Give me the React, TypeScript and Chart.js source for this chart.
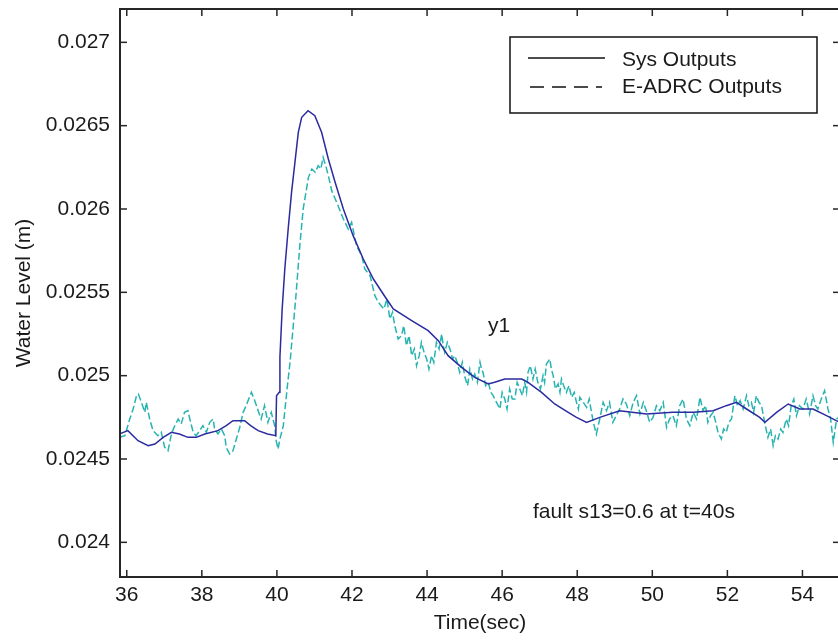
import React, { useEffect, useRef } from "react";
import { Chart, registerables } from "chart.js";

Chart.register(...registerables);

// ---- data ----
const sysTime = [
  35.8, 36.03, 36.3, 36.57, 36.75, 36.97, 37.19, 37.4, 37.63, 37.85, 38.08, 38.43, 38.65, 38.83,
  39.14, 39.3, 39.5, 39.75, 39.97, 39.99, 40.06, 40.08, 40.14, 40.21, 40.3, 40.39, 40.48, 40.57,
  40.66, 40.83, 41.01, 41.19, 41.37, 41.55, 41.77, 42.03, 42.3, 42.57, 42.92, 43.1, 43.59, 44.03,
  44.3, 44.56, 44.92, 45.27, 45.63, 45.8, 46.07, 46.52, 46.69, 47.05, 47.4, 47.76, 47.98, 48.25,
  48.6, 49.13, 49.84, 50.55, 51.09, 51.62, 51.97, 52.24, 52.51, 52.86, 53.0, 53.31, 53.62, 53.93,
  54.28, 54.64, 54.9, 55.0,
];
const sysLevel = [
  0.02465, 0.02467, 0.02461, 0.02458, 0.02459, 0.02463, 0.02466, 0.02465, 0.02463, 0.02463, 0.02465,
  0.02467, 0.0247, 0.02473, 0.02473, 0.0247, 0.02467, 0.02465, 0.02464, 0.02488, 0.0249, 0.02511,
  0.0254, 0.02564, 0.02588, 0.0261, 0.02628, 0.02646, 0.02655, 0.02659, 0.02656, 0.02646, 0.0263,
  0.02616, 0.026, 0.02584, 0.0257, 0.02558, 0.02546, 0.0254, 0.02533, 0.02527, 0.02521, 0.02512,
  0.02505, 0.02499, 0.02495, 0.02496, 0.02498, 0.02498, 0.02496, 0.0249, 0.02483, 0.02478, 0.02475,
  0.02472, 0.02475, 0.02479, 0.02477, 0.02478, 0.02478, 0.02479, 0.02482, 0.02484, 0.0248, 0.02475,
  0.02472, 0.02478, 0.02483, 0.0248, 0.0248, 0.02476, 0.02473, 0.02472,
];

const adrcTime = [
  35.8, 35.95, 36.08, 36.17, 36.26, 36.31, 36.39, 36.48, 36.52, 36.61,
  36.7, 36.83, 36.92, 37.01, 37.1, 37.19, 37.28, 37.37, 37.45, 37.54,
  37.63, 37.68, 37.77, 37.85, 37.94, 38.03, 38.12, 38.21, 38.3, 38.34,
  38.43, 38.52, 38.61, 38.65, 38.74, 38.83, 38.92, 39.01, 39.1, 39.18,
  39.32, 39.41, 39.5, 39.58, 39.67, 39.76, 39.85, 39.94, 39.98, 40.03,
  40.08, 40.17, 40.28, 40.35, 40.42, 40.5, 40.61, 40.7, 40.84, 40.93,
  41.02, 41.1, 41.17, 41.23, 41.3, 41.37, 41.46, 41.63, 41.77, 41.9,
  41.99, 42.12, 42.26, 42.34, 42.48, 42.61, 42.7, 42.85, 42.93, 43.01,
  43.08, 43.14, 43.23, 43.32, 43.38, 43.45, 43.52, 43.59, 43.66, 43.72,
  43.79, 43.85, 43.92, 43.99, 44.05, 44.12, 44.18, 44.25, 44.32, 44.39,
  44.43, 44.47, 44.54, 44.61, 44.68, 44.74, 44.8, 44.87, 44.94, 45.01,
  45.08, 45.14, 45.21, 45.27, 45.34, 45.41, 45.45, 45.49, 45.56, 45.63,
  45.7, 45.76, 45.85, 45.94, 46.0, 46.07, 46.13, 46.2, 46.27, 46.34,
  46.4, 46.47, 46.54, 46.6, 46.65, 46.69, 46.75, 46.82, 46.88, 46.95,
  47.02, 47.09, 47.13, 47.18, 47.27, 47.31, 47.36, 47.42, 47.49, 47.54,
  47.58, 47.64, 47.71, 47.78, 47.85, 47.92, 47.98, 48.03, 48.07, 48.16,
  48.25, 48.32, 48.38, 48.43, 48.51, 48.56, 48.6, 48.69, 48.78, 48.86,
  48.95, 49.04, 49.13, 49.22, 49.31, 49.4, 49.49, 49.58, 49.67, 49.76,
  49.84, 49.93, 50.02, 50.11, 50.2, 50.29, 50.38, 50.46, 50.55, 50.64,
  50.73, 50.82, 50.91, 51.0, 51.09, 51.18, 51.27, 51.35, 51.42, 51.48,
  51.55, 51.62, 51.69, 51.75, 51.84, 51.9, 51.97, 52.04, 52.11, 52.2,
  52.27, 52.34, 52.42, 52.51, 52.57, 52.64, 52.7, 52.77, 52.84, 52.91,
  53.0, 53.08, 53.15, 53.22, 53.28, 53.35, 53.42, 53.48, 53.57, 53.63,
  53.7, 53.77, 53.84, 53.92, 54.01, 54.1, 54.19, 54.28, 54.35, 54.41,
  54.5, 54.59, 54.68, 54.75, 54.82, 54.91, 55.0,
];
const adrcLevel = [
  0.02463, 0.02464, 0.02474, 0.0248, 0.02488, 0.02489, 0.02484, 0.02478, 0.02484, 0.02474,
  0.02467, 0.02464, 0.02466, 0.02457, 0.02455, 0.02465, 0.0247, 0.02474, 0.02471, 0.02478,
  0.02479, 0.02474, 0.02466, 0.02464, 0.02467, 0.0247, 0.02466, 0.02472, 0.02474, 0.02468,
  0.02465, 0.02468, 0.02464, 0.02457, 0.02453, 0.02455, 0.02462, 0.02469, 0.02478, 0.02482,
  0.0249, 0.02485, 0.02479, 0.02474, 0.02482, 0.02472, 0.02478, 0.0247, 0.02461, 0.02456,
  0.02462, 0.0247, 0.02494, 0.02508, 0.02526, 0.02546, 0.02578, 0.026, 0.02619, 0.02624,
  0.02622, 0.02626, 0.02624, 0.02631, 0.02626, 0.0262, 0.02611, 0.02602, 0.02594, 0.02588,
  0.02592, 0.02578, 0.02572, 0.02564, 0.0256, 0.02548, 0.02544, 0.0254, 0.02546, 0.02534,
  0.02538, 0.0253, 0.02522, 0.02524, 0.0253, 0.02518, 0.02524, 0.02512, 0.02516, 0.02506,
  0.02512, 0.0252, 0.02514, 0.0251, 0.02504, 0.02512, 0.02508, 0.0252, 0.02516, 0.02525,
  0.02518, 0.02514, 0.0252, 0.02516, 0.0251, 0.02512, 0.02508, 0.02502, 0.02508, 0.02499,
  0.02494, 0.02504, 0.02498, 0.02501, 0.02496, 0.02508, 0.02504, 0.02502, 0.02494, 0.02496,
  0.0249, 0.02488, 0.02484, 0.0248, 0.0249, 0.02486, 0.0248, 0.02492, 0.02486, 0.02486,
  0.02496, 0.02492, 0.02488, 0.02496, 0.0249, 0.02502, 0.02506, 0.02498, 0.02504, 0.02496,
  0.02492, 0.025, 0.02496, 0.02507, 0.0251, 0.02504, 0.025, 0.02492, 0.02495, 0.0249,
  0.02498, 0.02494, 0.0249, 0.02494, 0.02487, 0.0249, 0.02484, 0.0248, 0.02487, 0.02484,
  0.02481, 0.02486, 0.02478, 0.02472, 0.02465, 0.0247, 0.02474, 0.02484, 0.02479, 0.02484,
  0.02472, 0.02476, 0.0248, 0.02486, 0.02483, 0.02476, 0.02484, 0.02488, 0.02477, 0.02484,
  0.02479, 0.02472, 0.02475, 0.02482, 0.02479, 0.02484, 0.02469, 0.02474, 0.02476, 0.0247,
  0.02482, 0.02486, 0.02474, 0.0247, 0.02478, 0.02474, 0.02487, 0.02479, 0.02482, 0.02472,
  0.02476, 0.02478, 0.02472, 0.02466, 0.02462, 0.02468, 0.02466, 0.02472, 0.02474, 0.02488,
  0.02482, 0.02485, 0.0248, 0.02488, 0.02482, 0.02484, 0.02478, 0.02488, 0.02484, 0.02482,
  0.02471, 0.02463, 0.02468, 0.02458, 0.02464, 0.02462, 0.02468, 0.02466, 0.02474, 0.0247,
  0.02482, 0.02486, 0.02476, 0.02482, 0.0248, 0.02486, 0.02477, 0.02488, 0.02482, 0.0248,
  0.02486, 0.02491, 0.0248, 0.02474, 0.0246, 0.02474, 0.02476,
];

const xTicks = [36, 38, 40, 42, 44, 46, 48, 50, 52, 54];
const xTickLabels = ["36", "38", "40", "42", "44", "46", "48", "50", "52", "54"];
const yTicks = [0.024, 0.0245, 0.025, 0.0255, 0.026, 0.0265, 0.027];
const yTickLabels = ["0.024", "0.0245", "0.025", "0.0255", "0.026", "0.0265", "0.027"];
const seriesNames = ["Sys Outputs", "E-ADRC Outputs"];
const xTitle = "Time(sec)";
const yTitle = "Water Level (m)";
const noteTexts = ["y1", "fault s13=0.6 at t=40s"];
const noteTimes = [45.62, 46.82];
const noteLevels = [0.025264, 0.024148];

const FONT = "'Liberation Sans', Arial, Helvetica, sans-serif";
const TEXT = "#1a1a1a";
const SYS_COLOR = "#2b2ba0";
const ADRC_COLOR = "#27b4b1";
const FRAME = "#262626";

const framePlugin = {
  id: "matlabFrame",
  afterDatasetsDraw(chart: any) {
    const { ctx, chartArea: a, scales } = chart;
    const xs = scales.x;
    const ys = scales.y;
    ctx.save();
    const seg = (x1: number, y1: number, x2: number, y2: number) => {
      ctx.beginPath();
      ctx.moveTo(x1, y1);
      ctx.lineTo(x2, y2);
      ctx.stroke();
    };
    ctx.strokeStyle = FRAME;
    ctx.lineWidth = 1.5;
    const tl = 7;
    xTicks.forEach((v) => {
      const px = xs.getPixelForValue(v);
      seg(px, a.bottom, px, a.bottom - tl);
      seg(px, a.top, px, a.top + tl);
    });
    yTicks.forEach((v) => {
      const py = ys.getPixelForValue(v);
      seg(a.left, py, a.left + tl, py);
      seg(a.right, py, a.right - tl, py);
    });
    ctx.lineWidth = 2;
    ctx.strokeRect(a.left, a.top, a.right - a.left, a.bottom - a.top);

    // annotations
    ctx.fillStyle = TEXT;
    ctx.font = `21px ${FONT}`;
    ctx.textAlign = "left";
    ctx.textBaseline = "alphabetic";
    noteTexts.forEach((t, i) => {
      ctx.fillText(t, xs.getPixelForValue(noteTimes[i]), ys.getPixelForValue(noteLevels[i]));
    });

    // legend box
    const lx = a.right - 330;
    const ly = a.top + 28;
    const lw = 307;
    const lh = 76;
    ctx.fillStyle = "#ffffff";
    ctx.fillRect(lx, ly, lw, lh);
    ctx.strokeStyle = "#111111";
    ctx.lineWidth = 1.5;
    ctx.strokeRect(lx, ly, lw, lh);
    seg(lx + 18, ly + 21, lx + 95, ly + 21);
    ctx.setLineDash([14, 8]);
    seg(lx + 20, ly + 50, lx + 92, ly + 50);
    ctx.setLineDash([]);
    ctx.fillStyle = TEXT;
    ctx.fillText(seriesNames[0], lx + 112, ly + 29);
    ctx.fillText(seriesNames[1], lx + 112, ly + 56);
    ctx.restore();
  },
};

export default function App() {
  const ref = useRef<HTMLCanvasElement | null>(null);
  useEffect(() => {
    if (!ref.current) return;
    const font = { family: FONT, size: 21 };
    const chart = new Chart(ref.current, {
      type: "line",
      data: {
        datasets: [
          {
            label: seriesNames[0],
            data: sysTime.map((t, i) => ({ x: t, y: sysLevel[i] })),
            borderColor: SYS_COLOR,
            borderWidth: 1.5,
            pointRadius: 0,
            tension: 0,
            fill: false,
          },
          {
            label: seriesNames[1],
            data: adrcTime.map((t, i) => ({ x: t, y: adrcLevel[i] })),
            borderColor: ADRC_COLOR,
            borderWidth: 1.5,
            borderDash: [7, 3],
            pointRadius: 0,
            tension: 0,
            fill: false,
          },
        ],
      },
      options: {
        responsive: false,
        animation: false,
        devicePixelRatio: 1,
        layout: { padding: { top: 9, right: 10, left: 0, bottom: 0 } },
        plugins: { legend: { display: false }, tooltip: { enabled: false } },
        scales: {
          x: {
            type: "linear",
            min: 35.82,
            max: 55,
            grid: { display: false, drawTicks: false },
            border: { display: false },
            ticks: {
              font,
              color: TEXT,
              padding: 6,
              autoSkip: false,
              maxRotation: 0,
              callback: (v: any) => {
                const i = xTicks.indexOf(Number(v));
                return i >= 0 ? xTickLabels[i] : "";
              },
            },
            afterBuildTicks: (s: any) => {
              s.ticks = xTicks.map((v) => ({ value: v }));
            },
            afterFit: (s: any) => {
              s.height = 63;
              s.paddingLeft = 0;
              s.paddingRight = 0;
            },
            title: { display: true, text: xTitle, font, color: TEXT, padding: { top: 0, bottom: 4 } },
          },
          y: {
            type: "linear",
            min: 0.023792,
            max: 0.0272,
            grid: { display: false, drawTicks: false },
            border: { display: false },
            ticks: {
              font,
              color: TEXT,
              padding: 10,
              autoSkip: false,
              callback: (v: any) => {
                const i = yTicks.indexOf(Number(v));
                return i >= 0 ? yTickLabels[i] : "";
              },
            },
            afterBuildTicks: (s: any) => {
              s.ticks = yTicks.map((v) => ({ value: v }));
            },
            afterFit: (s: any) => {
              s.width = 120;
              s.paddingTop = 0;
              s.paddingBottom = 0;
            },
            title: { display: true, text: yTitle, font, color: TEXT, padding: { top: 12, bottom: 0 } },
          },
        },
      },
      plugins: [framePlugin],
    } as any);
    return () => chart.destroy();
  }, []);

  return (
    <div
      style={{
        position: "fixed",
        left: 0,
        top: 0,
        width: 838,
        height: 640,
        overflow: "hidden",
        background: "#ffffff",
      }}
    >
      <canvas ref={ref} width={850} height={640} style={{ display: "block" }} />
    </div>
  );
}
